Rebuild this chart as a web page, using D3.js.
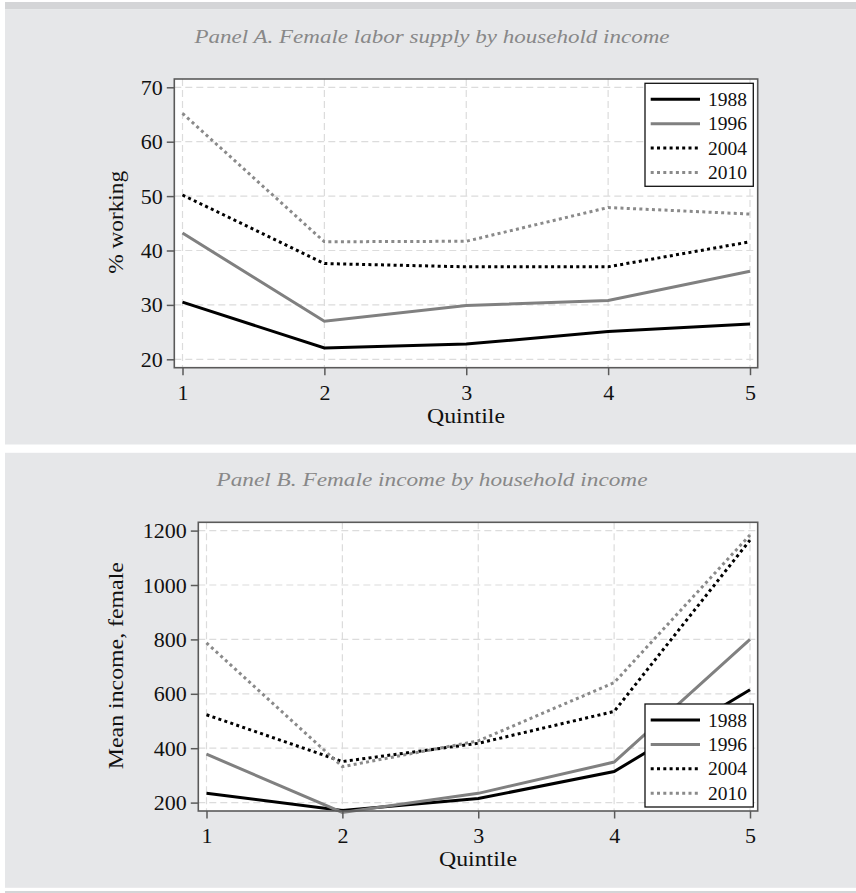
<!DOCTYPE html>
<html>
<head>
<meta charset="utf-8">
<script src="https://cdn.jsdelivr.net/npm/d3@7"></script>
<style>
  body { margin: 0; background: #ffffff; }
  svg { display: block; }
  text { font-family: "Liberation Serif", "Times New Roman", serif; fill: #111; }
</style>
</head>
<body>
<div id="chart"></div>
<script>
// data
const quintiles = [1, 2, 3, 4, 5];
const years = ["1988", "1996", "2004", "2010"];

const working1988 = [30.5, 22.1, 22.8, 25.1, 26.5];
const working1996 = [43.2, 27.0, 29.9, 30.8, 36.2];
const working2004 = [50.2, 37.6, 37.0, 37.0, 41.6];
const working2010 = [65.2, 41.6, 41.7, 47.9, 46.7];

const income1988 = [234, 171, 215, 314, 615];
const income1996 = [378, 164, 234, 349, 800];
const income2004 = [523, 351, 418, 535, 1165];
const income2010 = [787, 332, 427, 641, 1184];

const workingTicks = [20, 30, 40, 50, 60, 70];
const incomeTicks = [200, 400, 600, 800, 1000, 1200];

// line styles per year
const styles = [
    {color: "#000000", dash: null},
    {color: "#808080", dash: null},
    {color: "#000000", dash: "3,3.3"},
    {color: "#8a8a8a", dash: "3,3.3"}
];

const W = 856, H = 893;

const svg = d3.select("#chart").append("svg")
    .attr("width", W)
    .attr("height", H);

// outer strips
svg.append("rect").attr("x", 0).attr("y", 0).attr("width", W).attr("height", H).attr("fill", "#ffffff");
svg.append("rect").attr("x", 5).attr("y", 2).attr("width", W - 5).attr("height", 7.5).attr("fill", "#d4d5d7");
svg.append("rect").attr("x", 5).attr("y", 891).attr("width", W - 5).attr("height", 2).attr("fill", "#d4d5d7");

function drawPanel(cfg) {
    let g = svg.append("g").attr("transform", "translate(0," + cfg.top + ")");

    // panel background
    g.append("rect")
        .attr("x", 5).attr("y", 9.5)
        .attr("width", W - 5).attr("height", 435)
        .attr("fill", "#e6e7e9");

    // title
    g.append("text")
        .attr("x", 432).attr("y", 43)
        .attr("text-anchor", "middle")
        .attr("textLength", cfg.titleLen)
        .attr("lengthAdjust", "spacingAndGlyphs")
        .style("font-style", "italic")
        .style("font-size", "18px")
        .style("fill", "#888888")
        .text(cfg.title);

    let frame = {left: cfg.left, right: 757.7, top: 79, bottom: 367.7};

    let x = d3.scaleLinear()
        .domain([1, 5])
        .range([frame.left + 8.2, 750]);

    let y = d3.scaleLinear()
        .domain([cfg.ticks[0], cfg.ticks[cfg.ticks.length - 1]])
        .range([359.3, 87.3]);

    // plot region
    g.append("rect")
        .attr("x", frame.left).attr("y", frame.top)
        .attr("width", frame.right - frame.left)
        .attr("height", frame.bottom - frame.top)
        .attr("fill", "#ffffff");

    // grid
    let grid = g.append("g");
    grid.selectAll(".hgrid").data(cfg.ticks).enter().append("line")
        .attr("x1", frame.left).attr("x2", frame.right)
        .attr("y1", d => y(d)).attr("y2", d => y(d))
        .attr("stroke", "#dcdcdc").attr("stroke-width", 1.2)
        .attr("stroke-dasharray", "7,4");
    grid.selectAll(".vgrid").data(quintiles).enter().append("line")
        .attr("x1", d => x(d)).attr("x2", d => x(d))
        .attr("y1", frame.top).attr("y2", frame.bottom)
        .attr("stroke", "#dcdcdc").attr("stroke-width", 1.2)
        .attr("stroke-dasharray", "7,4");

    // series
    let line = d3.line()
        .x((d, i) => x(quintiles[i]))
        .y(d => y(d));

    cfg.series.forEach(function(s, k) {
        g.append("path")
            .datum(s)
            .attr("d", line)
            .attr("fill", "none")
            .attr("stroke", styles[k].color)
            .attr("stroke-width", 3)
            .attr("stroke-linejoin", "miter")
            .attr("stroke-dasharray", styles[k].dash);
    });

    // frame border
    g.append("rect")
        .attr("x", frame.left).attr("y", frame.top)
        .attr("width", frame.right - frame.left)
        .attr("height", frame.bottom - frame.top)
        .attr("fill", "none")
        .attr("stroke", "#5a5a5a")
        .attr("stroke-width", 1.6);

    // y axis
    let yAxis = d3.axisLeft(y)
        .tickValues(cfg.ticks)
        .tickFormat(d3.format("d"))
        .tickSize(7.5)
        .tickPadding(4);
    let ya = g.append("g")
        .attr("transform", "translate(" + frame.left + ",0)")
        .call(yAxis);
    ya.select(".domain").remove();
    ya.selectAll(".tick line").attr("stroke", "#5a5a5a").attr("stroke-width", 1.5);
    ya.selectAll(".tick text")
        .attr("font-family", null).attr("font-size", null)
        .style("font-size", "22px").style("fill", "#111");

    // x axis
    let xAxis = d3.axisBottom(x)
        .tickValues(quintiles)
        .tickFormat(d3.format("d"))
        .tickSize(7.5)
        .tickPadding(9);
    let xa = g.append("g")
        .attr("transform", "translate(0," + frame.bottom + ")")
        .call(xAxis);
    xa.select(".domain").remove();
    xa.selectAll(".tick line").attr("stroke", "#5a5a5a").attr("stroke-width", 1.5);
    xa.selectAll(".tick text")
        .attr("font-family", null).attr("font-size", null)
        .style("font-size", "22px").style("fill", "#111");

    // axis titles
    g.append("text")
        .attr("x", (frame.left + frame.right) / 2)
        .attr("y", 423)
        .attr("text-anchor", "middle")
        .attr("textLength", 78)
        .attr("lengthAdjust", "spacingAndGlyphs")
        .style("font-size", "22px")
        .text("Quintile");

    g.append("text")
        .attr("transform", "translate(122.5," + ((frame.top + frame.bottom) / 2 - 1) + ") rotate(-90)")
        .attr("text-anchor", "middle")
        .attr("textLength", cfg.yLen)
        .attr("lengthAdjust", "spacingAndGlyphs")
        .style("font-size", "22px")
        .text(cfg.yTitle);

    // legend
    let lg = g.append("g").attr("transform", "translate(645," + cfg.legendTop + ")");
    lg.append("rect")
        .attr("width", 108.3).attr("height", 103)
        .attr("fill", "#ffffff")
        .attr("stroke", "#111").attr("stroke-width", 1.3);
    years.forEach(function(yr, k) {
        let ry = 16 + k * 24.4;
        lg.append("line")
            .attr("x1", 5.7).attr("x2", 55)
            .attr("y1", ry).attr("y2", ry)
            .attr("stroke", styles[k].color)
            .attr("stroke-width", 3)
            .attr("stroke-dasharray", styles[k].dash);
        lg.append("text")
            .attr("x", 63).attr("y", ry)
            .attr("dy", "0.34em")
            .style("font-size", "19.5px")
            .text(yr);
    });
}

drawPanel({
    top: 0,
    left: 174.3,
    title: "Panel A. Female labor supply by household income",
    titleLen: 475,
    yTitle: "% working",
    yLen: 103,
    ticks: workingTicks,
    series: [working1988, working1996, working2004, working2010],
    legendTop: 83.3
});

drawPanel({
    top: 443.3,
    left: 198.3,
    title: "Panel B. Female income by household income",
    titleLen: 431,
    yTitle: "Mean income, female",
    yLen: 207,
    ticks: incomeTicks,
    series: [income1988, income1996, income2004, income2010],
    legendTop: 260.7
});
</script>
</body>
</html>
